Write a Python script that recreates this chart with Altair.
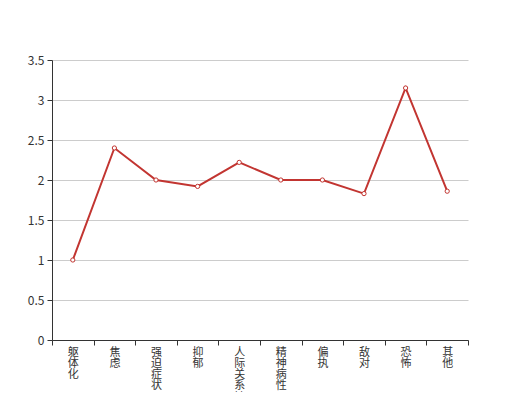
import altair as alt
import pandas as pd

categories = ["躯体化", "焦虑", "强迫症状", "抑郁", "人际关系敏感", "精神病性", "偏执", "敌对", "恐怖", "其他"]
values = [1.0, 2.4, 2.0, 1.92, 2.22, 2.0, 2.0, 1.83, 3.15, 1.86]
y_ticks = [0, 0.5, 1, 1.5, 2, 2.5, 3, 3.5]

df = pd.DataFrame({"cat": categories, "val": values})

font = "Noto Sans CJK SC"
color = "#c23531"

x_enc = alt.X(
    "cat:N",
    sort=categories,
    scale=alt.Scale(type="band", paddingInner=0, paddingOuter=0),
    axis=alt.Axis(
        title=None,
        labelAngle=0,
        labelExpr="split(datum.label, '')",
        labelBaseline="top",
        labelAlign="center",
        labelFont=font,
        labelFontSize=11,
        labelLineHeight=11.3,
        labelColor="#333",
        labelPadding=1,
        tickBand="extent",
        tickSize=5,
        tickColor="#333",
        domainColor="#333",
        grid=False,
    ),
)
y_enc = alt.Y(
    "val:Q",
    scale=alt.Scale(domain=[0, 3.5], nice=False, zero=True),
    axis=alt.Axis(
        title=None,
        values=y_ticks,
        format="~g",
        labelFont=font,
        labelFontSize=12,
        labelColor="#333",
        labelPadding=3,
        labelOverlap=False,
        labelFlush=False,
        tickSize=5,
        tickColor="#333",
        domainColor="#333",
        gridColor="#ccc",
        grid=True,
    ),
)

base = alt.Chart(df).encode(x=x_enc, y=y_enc)
line = base.mark_line(color=color, strokeWidth=2)
pts = base.mark_point(
    shape="circle", filled=True, fill="white", stroke=color, strokeWidth=1, size=18, opacity=1
)

chart = (
    alt.layer(line, pts)
    .properties(
        width=416,
        height=280,
        autosize=alt.AutoSizeParams(type="none"),
        padding={"left": 44, "top": 52, "right": 44, "bottom": 52},
    )
    .configure_view(stroke=None)
)

chart.save("out.html", embed_options={"renderer": "svg", "actions": False})
